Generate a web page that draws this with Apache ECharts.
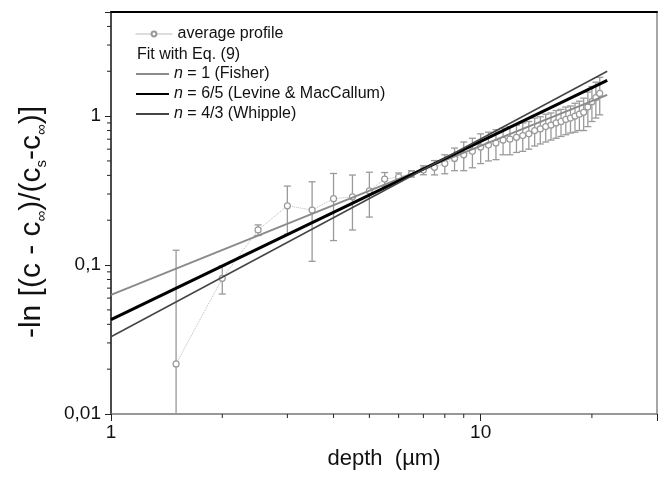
<!DOCTYPE html>
<html>
<head>
<meta charset="utf-8">
<script src="https://cdn.jsdelivr.net/npm/echarts@6/dist/echarts.min.js"></script>
<style>
  html, body { margin: 0; padding: 0; background: #fff; }
  #chart { width: 660px; height: 479px; }
</style>
</head>
<body>
<div id="chart"></div>
<script>
// measured profile (depth in µm)
var depth = [1.5, 2, 2.5, 3, 3.5, 4, 4.5, 5, 5.5, 6, 6.5, 7, 7.5, 8, 8.5, 9, 9.5, 10, 10.5, 11,
  11.5, 12, 12.5, 13, 13.5, 14, 14.5, 15, 15.5, 16, 16.5, 17, 17.5, 18, 18.5, 19, 19.5, 20, 20.5, 21]
var profile = [0.0217, 0.0814, 0.172, 0.25, 0.234, 0.279, 0.287, 0.315, 0.378, 0.39, 0.41, 0.434, 0.453, 0.48, 0.52, 0.55, 0.58, 0.62, 0.64, 0.66,
  0.69, 0.70, 0.72, 0.74, 0.76, 0.80, 0.82, 0.85, 0.87, 0.90, 0.92, 0.95, 0.97, 1.0, 1.03, 1.06, 1.15, 1.25, 1.33, 1.42]
var profileErr = [0.104, 0.0175, 0.014, 0.089, 0.128, 0.133, 0.115, 0.105, 0.04, 0.025, 0.02, 0.03, 0.05, 0.07, 0.09, 0.12, 0.13, 0.14, 0.14, 0.15,
  0.14, 0.15, 0.15, 0.16, 0.16, 0.17, 0.17, 0.18, 0.18, 0.19, 0.19, 0.2, 0.2, 0.22, 0.23, 0.26, 0.3, 0.33, 0.36, 0.4]

// fit lines (end points)
var fitX = [1, 22]
var fisherY = [0.063, 1.39]
var levineY = [0.043, 1.74]
var whippleY = [0.033, 2.0]

// axis ticks
var xTickValues = [1, 10]
var xTickLabels = ['1', '10']
var yTickValues = [0.01, 0.1, 1]
var yTickLabels = ['0,01', '0,1', '1']
var xMinorTicks = [2, 3, 4, 5, 6, 7, 8, 9, 20]
var yMinorTicks = [0.02, 0.03, 0.04, 0.05, 0.06, 0.07, 0.08, 0.09, 0.2, 0.3, 0.4, 0.5, 0.6, 0.7, 0.8, 0.9, 2, 3, 4]

var xMin = 1, xMax = 30, yMin = 0.01, yMax = 5
var FONT = '"Liberation Sans", Arial, sans-serif'

function tickLabel(values, labels) {
  return function (v) {
    for (var i = 0; i < values.length; i++) {
      if (Math.abs(v - values[i]) < values[i] * 1e-6) return labels[i]
    }
    return ''
  }
}

function pairs(xs, ys) {
  return xs.map(function (x, i) { return [x, ys[i]] })
}

function minorTicks(values, dir) {
  return {
    type: 'custom',
    silent: true,
    clip: false,
    z: 5,
    data: values.map(function (v) { return dir === 'x' ? [v, yMin] : [xMin, v] }),
    renderItem: function (params, api) {
      var p = api.coord([api.value(0), api.value(1)])
      var shape = dir === 'x'
        ? { x1: p[0], y1: p[1], x2: p[0], y2: p[1] + 4 }
        : { x1: p[0] - 4, y1: p[1], x2: p[0], y2: p[1] }
      return { type: 'line', shape: shape, style: { stroke: '#222', lineWidth: 1 } }
    }
  }
}

var chart = echarts.init(document.getElementById('chart'))

var option = {
  backgroundColor: '#fff',
  animation: false,
  grid: { left: 111, right: 3, top: 12, bottom: 65 },
  legend: [
    {
      data: ['average profile'],
      orient: 'vertical',
      left: 135,
      top: 26,
      padding: 0,
      itemWidth: 37,
      itemHeight: 6,
      itemGap: 0,
      lineStyle: { type: 'solid', color: '#bbb', width: 1 },
      textStyle: { fontSize: 16, fontFamily: FONT, color: '#111', lineHeight: 16 }
    },
    {
      data: ['n = 1 (Fisher)', 'n = 6/5 (Levine & MacCallum)', 'n = 4/3 (Whipple)'],
      orient: 'vertical',
      left: 135,
      top: 66,
      padding: 0,
      itemWidth: 33,
      itemHeight: 14,
      itemGap: 4,
      itemStyle: { opacity: 0 },
      formatter: function (name) {
        return '{i|n}{t|' + name.slice(1) + '}'
      },
      textStyle: {
        fontSize: 16, fontFamily: FONT, color: '#111',
        rich: {
          i: { fontSize: 16, fontFamily: FONT, fontStyle: 'italic', color: '#111' },
          t: { fontSize: 16, fontFamily: FONT, color: '#111' }
        }
      }
    }
  ],
  graphic: [
    {
      type: 'text',
      left: 137,
      top: 47,
      style: { text: 'Fit with Eq. (9)', fontSize: 16, fontFamily: FONT, fill: '#111' }
    }
  ],
  xAxis: [
    {
      type: 'log',
      logBase: 10,
      min: xMin,
      max: xMax,
      name: 'depth  (µm)',
      nameLocation: 'middle',
      nameGap: 34,
      nameTextStyle: { fontSize: 22, fontFamily: FONT, color: '#111' },
      axisLine: { lineStyle: { color: '#777', width: 1.5 } },
      axisTick: { length: 7, lineStyle: { color: '#222' } },
      axisLabel: {
        fontSize: 19, fontFamily: FONT, color: '#111', margin: 9,
        formatter: tickLabel(xTickValues, xTickLabels)
      },
      splitLine: { show: false }
    },
    {
      type: 'log',
      position: 'top',
      min: xMin,
      max: xMax,
      axisLine: { lineStyle: { color: '#000', width: 2 } },
      axisTick: { show: false },
      axisLabel: { show: false },
      splitLine: { show: false }
    }
  ],
  yAxis: [
    {
      type: 'log',
      logBase: 10,
      min: yMin,
      max: yMax,
      name: '{a|-ln [(c - c}{s|∞}{a|)/(c}{s|s}{a|-c}{s|∞}{a|)]}',
      nameLocation: 'middle',
      nameRotate: 90,
      nameGap: 62,
      nameTextStyle: {
        padding: [0, 18, 0, 0],
        rich: {
          a: { fontSize: 30, fontFamily: FONT, color: '#111', lineHeight: 34, verticalAlign: 'middle' },
          s: { fontSize: 15, fontFamily: FONT, color: '#111', lineHeight: 34, verticalAlign: 'bottom' }
        }
      },
      axisLine: { lineStyle: { color: '#111', width: 1.5 } },
      axisTick: { length: 6, lineStyle: { color: '#222' } },
      axisLabel: {
        fontSize: 19, fontFamily: FONT, color: '#111', margin: 10,
        formatter: tickLabel(yTickValues, yTickLabels)
      },
      splitLine: { show: false }
    },
    {
      type: 'log',
      position: 'right',
      min: yMin,
      max: yMax,
      axisLine: { lineStyle: { color: '#888', width: 1.5 } },
      axisTick: { show: false },
      axisLabel: { show: false },
      splitLine: { show: false }
    }
  ],
  series: [
    {
      name: 'errors',
      type: 'custom',
      z: 2,
      silent: true,
      data: depth.map(function (d, i) { return [d, profile[i], profileErr[i]] }),
      encode: { x: 0, y: 1 },
      renderItem: function (params, api) {
        var x = api.value(0), v = api.value(1), e = api.value(2)
        var top = api.coord([x, v + e])
        var lowVal = v - e
        var clipped = lowVal < yMin
        var bottom = clipped ? [top[0], params.coordSys.y + params.coordSys.height] : api.coord([x, lowVal])
        var style = { stroke: '#9a9a9a', lineWidth: 1.3 }
        var children = [
          { type: 'line', shape: { x1: top[0], y1: top[1], x2: bottom[0], y2: bottom[1] }, style: style },
          { type: 'line', shape: { x1: top[0] - 3.5, y1: top[1], x2: top[0] + 3.5, y2: top[1] }, style: style }
        ]
        if (!clipped) {
          children.push({ type: 'line', shape: { x1: bottom[0] - 3.5, y1: bottom[1], x2: bottom[0] + 3.5, y2: bottom[1] }, style: style })
        }
        return { type: 'group', children: children }
      }
    },
    {
      name: 'average profile',
      type: 'line',
      z: 3,
      data: pairs(depth, profile),
      symbol: 'circle',
      symbolSize: 6,
      itemStyle: { color: '#fff', borderColor: '#999', borderWidth: 1.2 },
      lineStyle: { color: '#bbb', width: 1, type: 'dotted' }
    },
    {
      name: 'n = 1 (Fisher)',
      type: 'line',
      z: 4,
      data: pairs(fitX, fisherY),
      symbol: 'none',
      itemStyle: { color: '#8a8a8a' },
      lineStyle: { color: '#8a8a8a', width: 2 }
    },
    {
      name: 'n = 6/5 (Levine & MacCallum)',
      type: 'line',
      z: 4,
      data: pairs(fitX, levineY),
      symbol: 'none',
      itemStyle: { color: '#000' },
      lineStyle: { color: '#000', width: 3 }
    },
    {
      name: 'n = 4/3 (Whipple)',
      type: 'line',
      z: 4,
      data: pairs(fitX, whippleY),
      symbol: 'none',
      itemStyle: { color: '#444' },
      lineStyle: { color: '#444', width: 1.5 }
    },
    minorTicks(xMinorTicks, 'x'),
    minorTicks(yMinorTicks, 'y')
  ]
}

chart.setOption(option)
</script>
</body>
</html>
